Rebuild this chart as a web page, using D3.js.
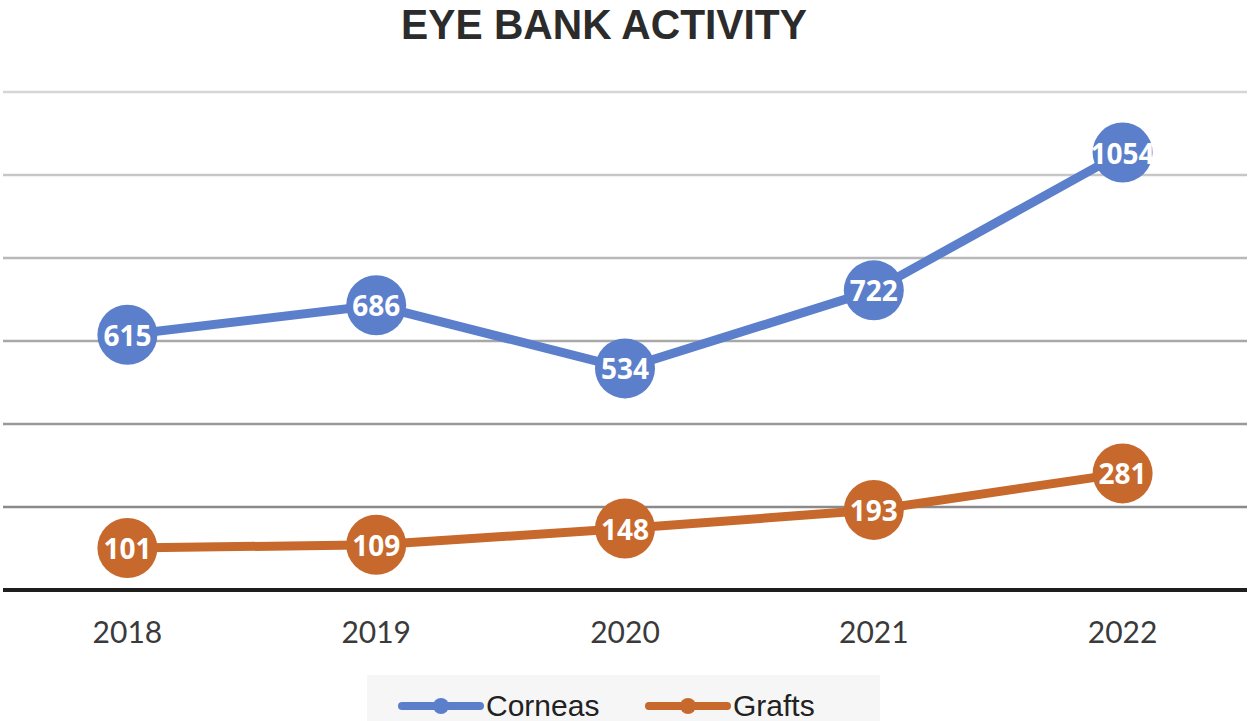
<!DOCTYPE html>
<html>
<head>
<meta charset="utf-8">
<script src="https://cdn.jsdelivr.net/npm/d3@7"></script>
<style>
  body { margin: 0; background: #fff; }
  svg { display: block; }
</style>
</head>
<body>
<svg id="chart" width="1250" height="721"></svg>
<script>
const years = ['2018', '2019', '2020', '2021', '2022']
const corneas = [615, 686, 534, 722, 1054]
const grafts = [101, 109, 148, 193, 281]
const yTicks = [200, 400, 600, 800, 1000, 1200]

const width = 1250
const height = 721
const margin = { left: 3, right: 3, top: 92, bottom: 131 }
const blue = '#5b7fcb'
const orange = '#c7692c'

const svg = d3.select('#chart')

const x = d3.scaleBand()
    .domain(years)
    .range([margin.left, width - margin.right])

const y = d3.scaleLinear()
    .domain([0, 1200])
    .range([height - margin.bottom, margin.top])

const gridColor = d3.scaleLinear()
    .domain([1200, 200])
    .range(['#d6d6d6', '#8a8a8a'])

// title
svg.append('text')
    .attr('transform', 'translate(604,39) scale(0.97,1)')
    .attr('text-anchor', 'middle')
    .attr('font-family', '"Liberation Sans", Arial, sans-serif')
    .attr('font-weight', 'bold')
    .attr('font-size', 42)
    .attr('fill', '#2b2b2b')
    .text('EYE BANK ACTIVITY')

// gridlines
svg.append('g')
    .selectAll('line')
    .data(yTicks)
    .join('line')
    .attr('x1', margin.left)
    .attr('x2', width - margin.right)
    .attr('y1', d => y(d))
    .attr('y2', d => y(d))
    .attr('stroke', d => gridColor(d))
    .attr('stroke-width', 2.5)

// baseline
svg.append('line')
    .attr('x1', margin.left)
    .attr('x2', width - margin.right)
    .attr('y1', y(0))
    .attr('y2', y(0))
    .attr('stroke', '#1e1e1e')
    .attr('stroke-width', 4)

// x labels
const xAxis = svg.append('g')
    .attr('transform', `translate(0,${y(0)})`)
    .call(d3.axisBottom(x).tickSize(0).tickPadding(32))
xAxis.select('.domain').remove()
xAxis.selectAll('text')
    .attr('font-family', 'Lato, "Noto Sans", sans-serif')
    .attr('font-size', 30)
    .attr('fill', '#3a3a3a')

const cx = d => x(d) + x.bandwidth() / 2

const series = [
    { name: 'Corneas', values: corneas, color: blue },
    { name: 'Grafts', values: grafts, color: orange }
]

const line = d3.line()
    .x(d => cx(d.year))
    .y(d => y(d.value))

series.forEach(s => {
    const pts = years.map((yr, i) => ({ year: yr, value: s.values[i] }))
    const g = svg.append('g')
    g.append('path')
        .datum(pts)
        .attr('d', line)
        .attr('fill', 'none')
        .attr('stroke', s.color)
        .attr('stroke-width', 9)
    g.selectAll('circle')
        .data(pts)
        .join('circle')
        .attr('cx', d => cx(d.year))
        .attr('cy', d => y(d.value))
        .attr('r', 30)
        .attr('fill', s.color)
    g.selectAll('text')
        .data(pts)
        .join('text')
        .attr('x', d => cx(d.year))
        .attr('y', d => y(d.value) + 11)
        .attr('text-anchor', 'middle')
        .attr('font-family', '"Open Sans", "DejaVu Sans", sans-serif')
        .attr('font-weight', 'bold')
        .attr('font-size', 28)
        .attr('fill', '#fff')
        .text(d => d.value)
})

// legend
const legend = svg.append('g')
legend.append('rect')
    .attr('x', 367)
    .attr('y', 675)
    .attr('width', 513)
    .attr('height', 46)
    .attr('fill', '#f6f6f6')

const legendItems = legend.selectAll('g')
    .data(series)
    .join('g')
    .attr('transform', (d, i) => `translate(${402 + i * 247},706)`)
legendItems.append('line')
    .attr('x1', 0)
    .attr('x2', 78)
    .attr('stroke', d => d.color)
    .attr('stroke-width', 8)
    .attr('stroke-linecap', 'round')
legendItems.append('circle')
    .attr('cx', 39)
    .attr('r', 8)
    .attr('fill', d => d.color)
legendItems.append('text')
    .attr('x', 84)
    .attr('y', 10)
    .attr('font-family', '"Liberation Sans", Arial, sans-serif')
    .attr('font-size', 30)
    .attr('fill', '#222')
    .text(d => d.name)
</script>
</body>
</html>
